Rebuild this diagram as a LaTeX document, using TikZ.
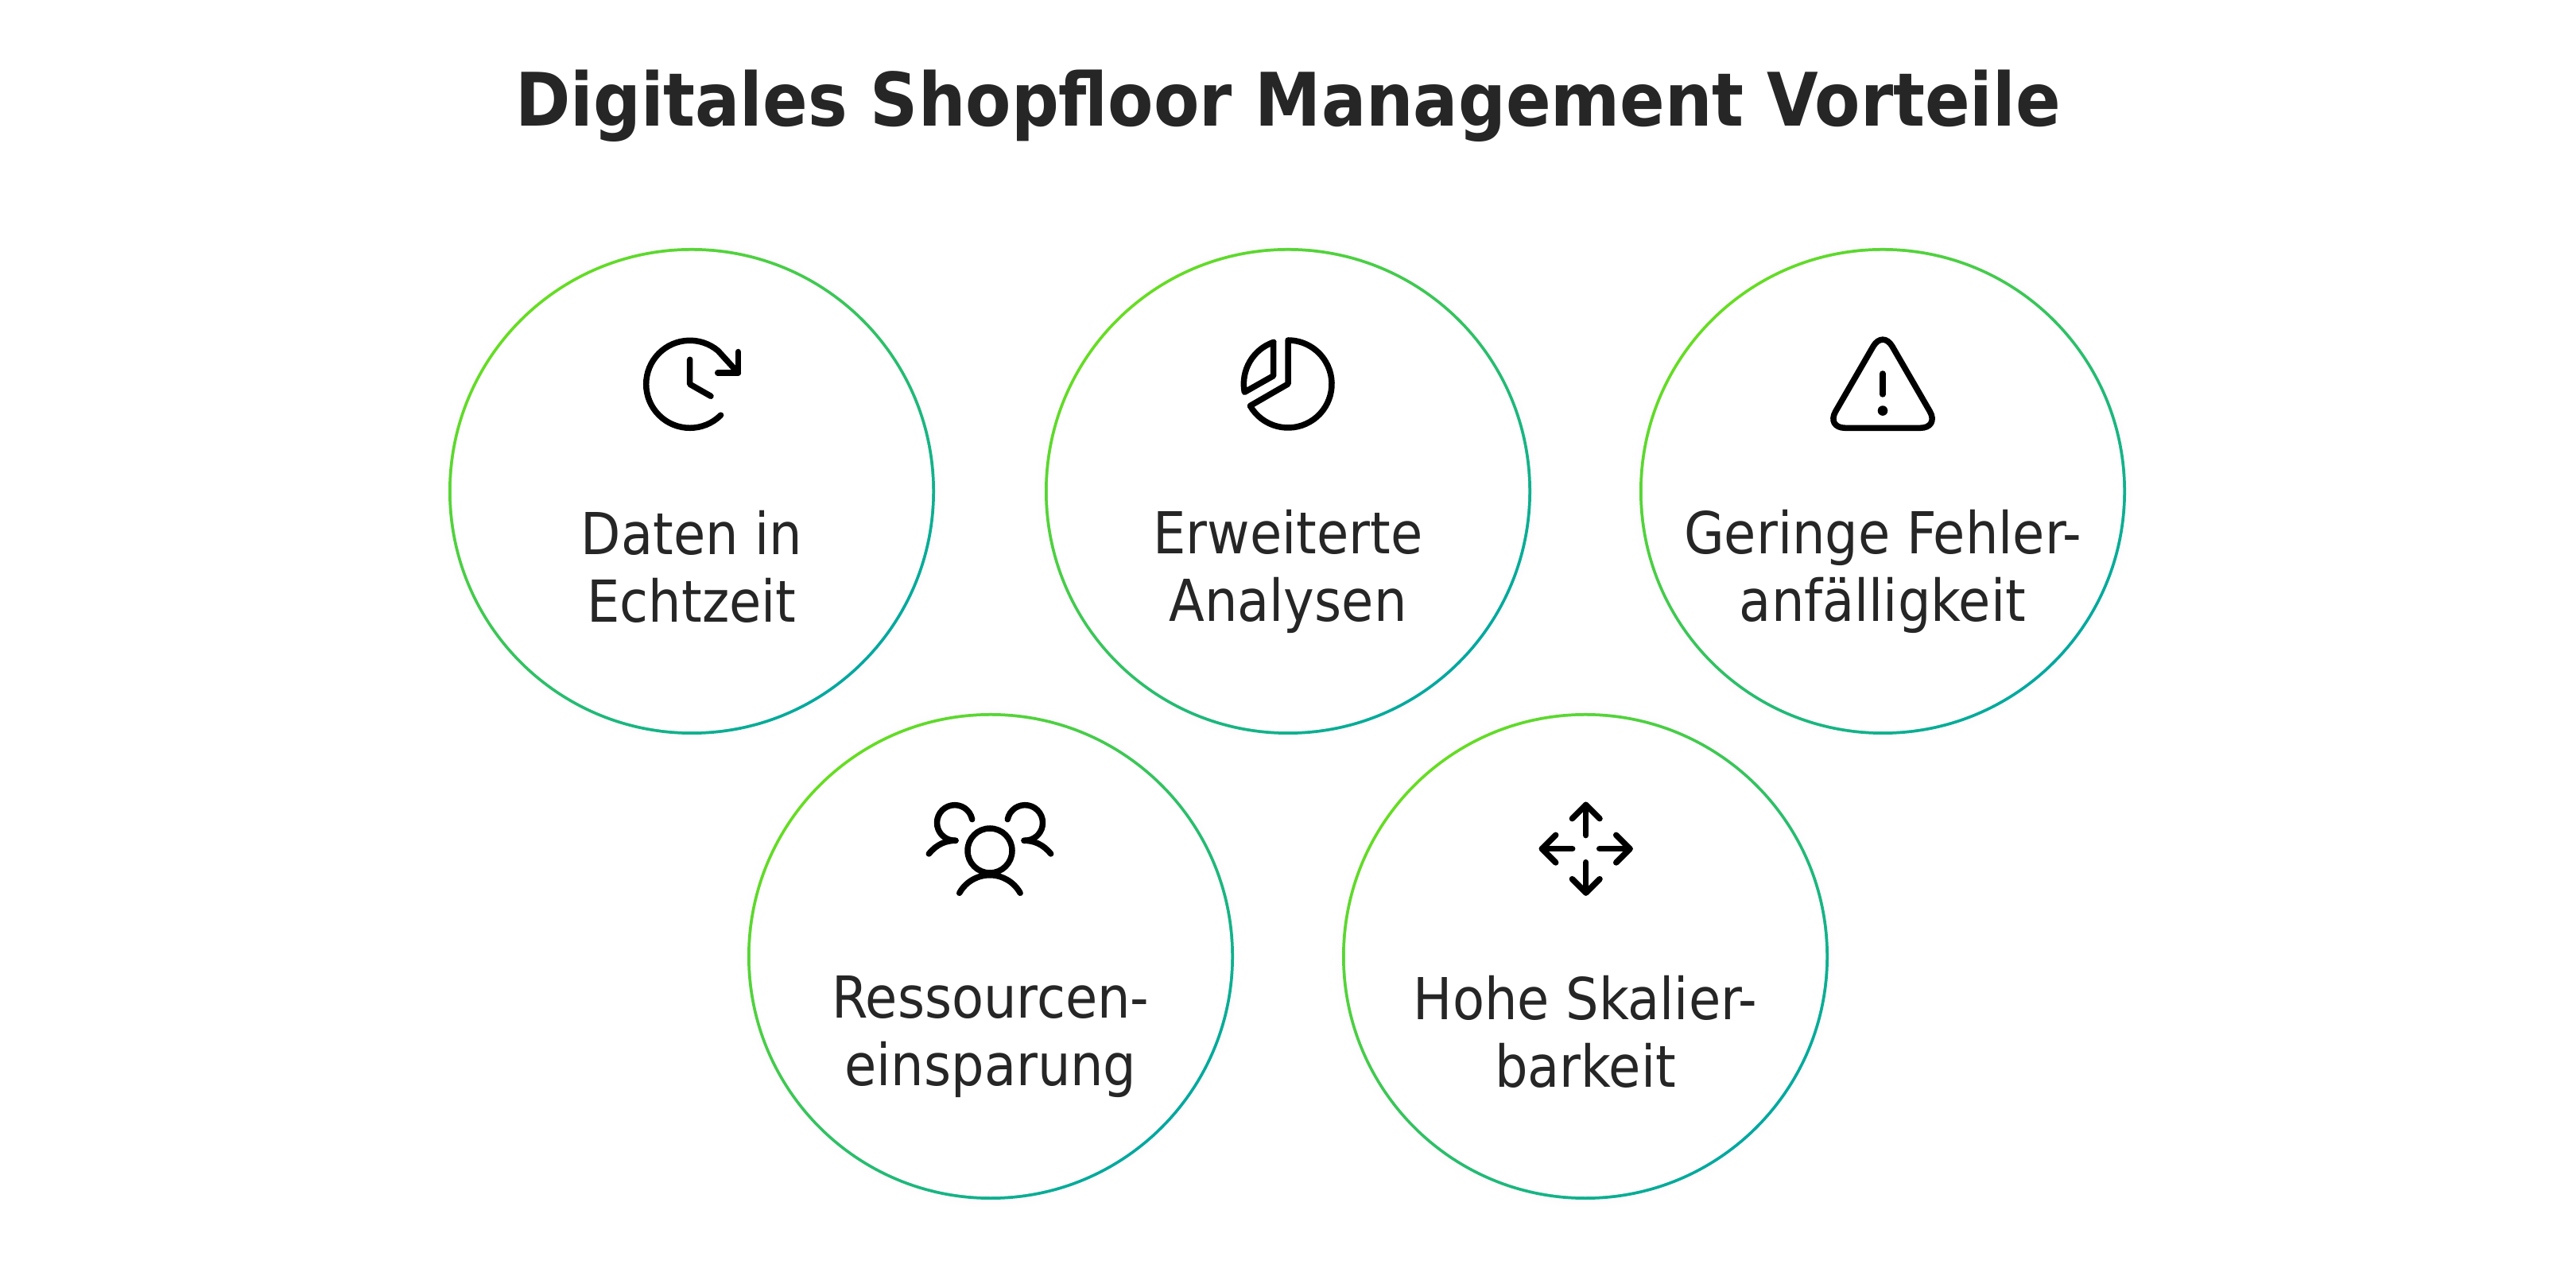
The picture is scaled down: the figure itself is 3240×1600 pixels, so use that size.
\documentclass[tikz,border=0pt]{standalone}
\usepackage{fontspec}
\setmainfont{DejaVu Sans Condensed}
\usetikzlibrary{shadows}
\definecolor{ringgreen}{HTML}{66DD22}
\definecolor{ringteal}{HTML}{00A8A0}
\definecolor{inktext}{HTML}{262626}
\begin{document}
\begin{tikzpicture}[x=1bp,y=1bp,line cap=round,line join=round]

			\tikzstyle{ring}=[circle,minimum size=612bp,inner sep=0pt,top color=ringgreen,bottom color=ringteal,shading angle=45,circular drop shadow={shadow xshift=0bp,shadow yshift=0bp,shadow scale=1.03,opacity=.12}]
			\tikzstyle{disc}=[circle,minimum size=604.5bp,inner sep=0pt,fill=white]
			\tikzstyle{caption}=[text=inktext,align=center,font=\fontsize{73}{86}\selectfont]
			\tikzstyle{icon}=[line width=7.5bp,black]

			\useasboundingbox (0,0) rectangle (3240,1600);

			\node[text=inktext,font=\fontsize{93.2}{100}\selectfont\bfseries,anchor=base] (title) at (1620,1441) {Digitales Shopfloor Management Vorteile};

			\node[ring] (ra) at (870,982) {};
			\node[disc] at (ra) {};
			\node[ring] (rb) at (1620,982) {};
			\node[disc] at (rb) {};
			\node[ring] (rc) at (2368,982) {};
			\node[disc] at (rc) {};
			\node[ring] (rd) at (1246,397) {};
			\node[disc] at (rd) {};
			\node[ring] (re) at (1994,397) {};
			\node[disc] at (re) {};

			\node[caption] (ta) at (870,887) {Daten in\\Echtzeit};
			\node[caption] (tb) at (1620,881) {Erweiterte\\Analysen};
			\node[caption] (tc) at (2368,881) {Geringe Fehler-\\anfälligkeit};
			\node[caption] (td) at (1246,296) {Ressourcen-\\einsparung};
			\node[caption] (te) at (1994,302) {Hohe Skalier-\\barkeit};

			% clock
			\begin{scope}[shift={(867.7,1116.7)},icon]
			\draw (-45:55) arc (-45:-310:55) -- (60.7,14.3);
			\draw (60.7,40.7) -- (60.7,14.3) -- (35,14.3);
			\draw (0,31) -- (0,0) -- (26.3,-15);
			\end{scope}

			% pie
			\begin{scope}[shift={(1620,1117)},icon]
			\draw (0,55) -- (0,0) -- (210:55) arc (210:450:55) -- cycle;
			\draw (-18.3,52.3) -- (-18.3,10.3) -- (-54.7,-10.3) arc (190.7:109:55.6) -- cycle;
			\end{scope}

			% warning
			\begin{scope}[shift={(2368,1116.7)},icon]
			\draw[rounded corners=24bp] (0,68.3) -- (71.3,-55) -- (-71.3,-55) -- cycle;
			\draw (0,13.3) -- (0,-12.7);
			\fill (0,-33.3) circle (6.3);
			\end{scope}

			% people
			\begin{scope}[shift={(1245,530)},icon]
			\draw (0,0) circle (28);
			\draw (-38.3,-53.3) arc (151:29:43.7);
			\draw (-22.3,39.3) arc (11:270:22.3) -- (-43,12.7);
			\draw (-76.7,-4) .. controls (-66.7,8.3) and (-55,12.7) .. (-43,12.7);
			\draw (22.3,39.3) arc (169:-90:22.3) -- (43,12.7);
			\draw (76.7,-4) .. controls (66.7,8.3) and (55,12.7) .. (43,12.7);
			\end{scope}

			% arrows
			\begin{scope}[shift={(1994.7,532.3)},icon]
			\draw (0,17) -- (0,55.3);
			\draw (-17.3,38) -- (0,55.3) -- (17.3,38);
			\draw (0,-17) -- (0,-55.3);
			\draw (-17.3,-38) -- (0,-55.3) -- (17.3,-38);
			\draw (17,0) -- (55.3,0);
			\draw (38,17.3) -- (55.3,0) -- (38,-17.3);
			\draw (-17,0) -- (-55.3,0);
			\draw (-38,17.3) -- (-55.3,0) -- (-38,-17.3);
			\end{scope}
\end{tikzpicture}
\end{document}
